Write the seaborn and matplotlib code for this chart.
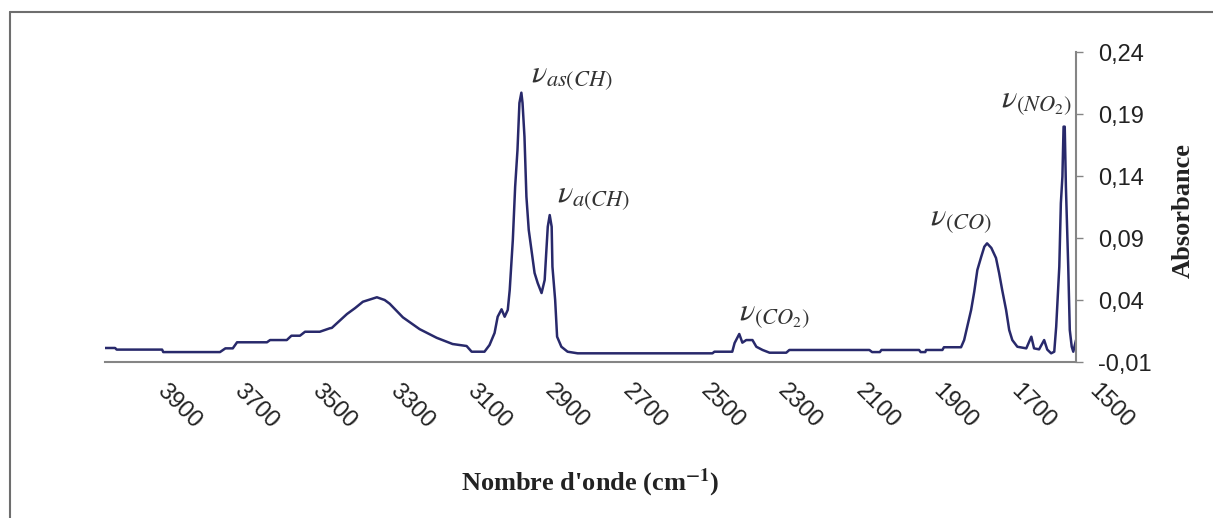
"""
IR spectrum (absorbance vs wavenumber) with peak assignments.
"""
import numpy as np
import pandas as pd
import matplotlib
matplotlib.use("Agg")
import matplotlib.pyplot as plt
import matplotlib.transforms as mtransforms
from matplotlib.lines import Line2D
import seaborn as sns

sns.set_style("white")
plt.rcParams['font.family'] = ['Liberation Sans', 'DejaVu Sans']
plt.rcParams['mathtext.fontset'] = 'stix'

# Spectrum (cm-1, absorbance)
wavenumber = [
    4000, 3974, 3970, 3853, 3850, 3704, 3690, 3671, 3660, 3583, 3575, 3532,
    3520, 3498, 3485, 3447, 3421, 3416, 3377, 3356, 3336, 3300, 3280, 3267,
    3233, 3190, 3146, 3105, 3069, 3056, 3023, 3010, 2997, 2989, 2979, 2971,
    2963, 2958, 2950, 2944, 2938, 2933, 2928, 2925, 2920, 2915, 2909, 2902,
    2894, 2886, 2876, 2868, 2864, 2860, 2855, 2850, 2848, 2841, 2836, 2825,
    2809, 2783, 2436, 2431, 2385, 2379, 2367, 2359, 2349, 2333, 2323, 2307,
    2289, 2246, 2238, 2032, 2025, 2005, 2001, 1904, 1900, 1888, 1886, 1844,
    1840, 1796, 1788, 1780, 1770, 1762, 1754, 1744, 1736, 1729, 1718, 1706,
    1698, 1690, 1680, 1672, 1664, 1651, 1628, 1615, 1608, 1595, 1582, 1574,
    1564, 1556, 1551, 1543, 1539, 1535, 1532, 1529, 1526, 1520, 1516, 1511,
    1507, 1500,
]
absorbance = [
    0.0013, 0.0013, 0.0, 0.0, -0.002, -0.002, 0.001, 0.001, 0.0059, 0.0059, 0.0077, 0.0077,
    0.0112, 0.0112, 0.0144, 0.0144, 0.0172, 0.0175, 0.0287, 0.0335, 0.0386, 0.0422, 0.040, 0.037,
    0.026, 0.0165, 0.0095, 0.0045, 0.0029, -0.0017, -0.0017, 0.0037, 0.0134, 0.0265, 0.0325, 0.0265,
    0.032, 0.048, 0.0884, 0.1314, 0.161, 0.1989, 0.2072, 0.1989, 0.1717, 0.1233, 0.0965, 0.0803,
    0.0618, 0.0537, 0.0456, 0.0561, 0.0779, 0.0991, 0.1085, 0.0991, 0.0669, 0.04, 0.0104, 0.0023,
    -0.0017, -0.003, -0.003, -0.0017, -0.0017, 0.0053, 0.0126, 0.0056, 0.0077, 0.0077, 0.0023, -0.0003,
    -0.0025, -0.0025, -0.0003, -0.0003, -0.002, -0.002, -0.0003, -0.0003, -0.002, -0.002, -0.0003, -0.0003,
    0.0019, 0.0019, 0.0077, 0.0185, 0.032, 0.0467, 0.0642, 0.0749, 0.083, 0.0857, 0.082, 0.0739,
    0.0618, 0.048, 0.032, 0.0158, 0.0077, 0.0023, 0.001, 0.0104, 0.001, 0.0002, 0.0077, 0.0,
    -0.003, -0.0017, 0.0185, 0.0669, 0.118, 0.1394, 0.1798, 0.1798, 0.1314, 0.0669, 0.0158, 0.0023,
    -0.0017, 0.0077,
]

x_ticks = [3900, 3700, 3500, 3300, 3100, 2900, 2700, 2500, 2300, 2100, 1900, 1700, 1500]
y_ticks = [-0.01, 0.04, 0.09, 0.14, 0.19, 0.24]

# Band assignments
peak_labels = [r"$\nu_{as(CH)}$", r"$\nu_{a(CH)}$", r"$\nu_{(CO_2)}$",
               r"$\nu_{(CO)}$", r"$\nu_{(NO_2)}$"]
peak_x = [2902, 2837, 2367, 1875, 1693]
peak_y = [0.2158, 0.119, 0.0239, 0.1005, 0.1956]

W, H = 1213, 518
gray = '#858585'
line_color = '#28296b'

fig = plt.figure(figsize=(W / 100, H / 100), dpi=100)
ax = fig.add_axes([105 / W, 156 / H, 971 / W, 310 / H])

df = pd.DataFrame({'wavenumber': wavenumber, 'absorbance': absorbance})
sns.lineplot(data=df, x='wavenumber', y='absorbance', sort=False, estimator=None,
             color=line_color, linewidth=1.8, ax=ax)

ax.set_xlim(4000, 1500)
ax.set_ylim(-0.01, 0.24)

for side in ['top', 'left']:
    ax.spines[side].set_visible(False)
for side in ['right', 'bottom']:
    ax.spines[side].set_color(gray)
    ax.spines[side].set_linewidth(1.5)

ax.yaxis.tick_right()
ax.set_yticks(y_ticks)
ax.set_yticklabels([f"{v:.2f}".replace('.', ',') for v in y_ticks])
ax.tick_params(axis='y', direction='out', length=5, width=1, color=gray,
               pad=11, labelsize=17, labelcolor='#222222')

ax.set_xticks(x_ticks)
ax.set_xticklabels([str(v) for v in x_ticks], rotation=-45, ha='left', va='top',
                   rotation_mode='anchor')
ax.tick_params(axis='x', direction='out', length=8, width=1, color=gray,
               pad=5, labelsize=17, labelcolor='#222222')
offset = mtransforms.ScaledTranslation(24 / 100, 0, fig.dpi_scale_trans)
for lab in ax.get_xticklabels():
    lab.set_transform(lab.get_transform() + offset)

ax.set_xlabel(r"Nombre d'onde (cm$^{\mathbf{-1}}$)", family=['Liberation Serif'],
              fontweight='bold', fontsize=19, color='#222222')
ax.xaxis.set_label_coords(0.5, (362 - 483) / 310)
ax.xaxis.label.set_va('center')

ax.set_ylabel('Absorbance', family=['Liberation Serif'], fontweight='bold',
              fontsize=19, color='#222222', rotation=90)
ax.yaxis.set_label_position('right')
ax.yaxis.set_label_coords((1183 - 105) / 971, 0.49)
ax.yaxis.label.set_va('center')
ax.yaxis.label.set_ha('center')

for txt, xv, yv in zip(peak_labels, peak_x, peak_y):
    ax.text(xv, yv, txt, fontsize=23, color='#333333', ha='left', va='baseline')

ax.grid(False)

# partial frame around the chart (top and left edges only)
fig.add_artist(Line2D([9.5 / W, 1], [1 - 12 / H, 1 - 12 / H], transform=fig.transFigure,
                      color='#6e6e6e', linewidth=1.5))
fig.add_artist(Line2D([9.5 / W, 9.5 / W], [0, 1 - 12 / H], transform=fig.transFigure,
                      color='#6e6e6e', linewidth=1.5))

fig.savefig('out.png', dpi=100)
plt.close(fig)
